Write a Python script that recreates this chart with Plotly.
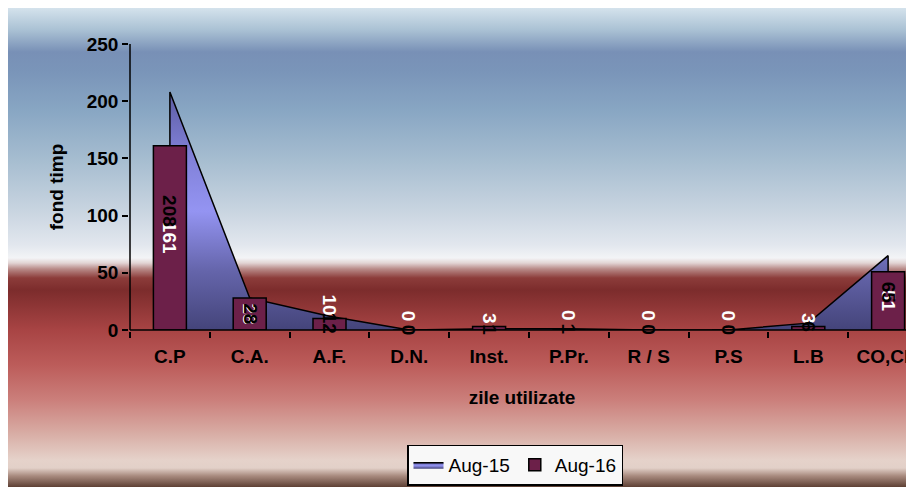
import base64
import plotly.graph_objects as go

# ---------------- data ----------------
categories = ["C.P", "C.A.", "A.F.", "D.N.", "Inst.", "P.Pr.", "R / S", "P.S", "L.B", "CO,CM"]
aug15 = [208, 28, 12, 0, 1, 1, 0, 0, 6, 65]
aug16 = [161, 28, 10, 0, 3, 0, 0, 0, 3, 51]
series_names = ["Aug-15", "Aug-16"]
y_ticks = [0, 50, 100, 150, 200, 250]
x_title = "zile utilizate"
y_title = "fond timp"

# ---------------- geometry helpers (layout only) ----------------
OFF = 8                      # page body margin
W, H = 914 - OFF, 487 - OFF  # figure size
ML, MR, MT, MB = 122, 0, 36, 157
PW, PH = W - ML - MR, H - MT - MB
CAT_PX = 79.8                # pixel width of one category slot
BAR_FRAC = 33 / CAT_PX


def px_to_paper_x(px):       # px in figure pixels
    return (px - ML) / PW


def px_to_paper_y(py):
    return (H - MB - py) / PH


FONT = "Liberation Sans, Arial, sans-serif"
LABEL_FONT_W = dict(family=FONT, size=19, color="white", weight="bold")
LABEL_FONT_B = dict(family=FONT, size=19, color="black", weight="bold")

# background gradient (figure pixel y, colour)
bg_stops = [(0, '#d4e2ec'), (22, '#aac1d4'), (44, '#7890b6'), (64, '#7a95b9'),
            (102, '#88a6c3'), (152, '#a6bdd0'), (202, '#c8d4e0'), (237, '#e2e7ee'),
            (250, '#f3f4f6'), (255, '#e2d4d4'), (261, '#b88a88'), (270, '#8c3c3a'),
            (282, '#7c2c2c'), (322, '#a84444'), (357, '#bc5c5a'), (392, '#cb7f7b'),
            (425, '#d8aca4'), (452, '#e5d2ca'), (460, '#e2d0c8'), (468, '#a88a7e'),
            (479, '#5e4034')]
stops_svg = "".join(
    f'<stop offset="{y / H:.4f}" stop-color="{c}"/>' for y, c in bg_stops)
svg = (f'<svg xmlns="http://www.w3.org/2000/svg" width="{W}" height="{H}" '
       f'preserveAspectRatio="none"><defs><linearGradient id="g" x1="0" y1="0" x2="0" y2="1">'
       f'{stops_svg}</linearGradient></defs>'
       f'<rect width="{W}" height="{H}" fill="url(#g)"/></svg>')
bg_uri = "data:image/svg+xml;base64," + base64.b64encode(svg.encode()).decode()

fig = go.Figure()

# Aug-15 area (closed polygon from the data, down to zero at both ends)
area_x = [categories[0]] + categories + [categories[-1]]
area_y = [0] + aug15 + [0]
fig.add_trace(go.Scatter(
    x=area_x, y=area_y, name=series_names[0], mode="lines",
    fill="toself",
    fillgradient=dict(type="vertical",
                      colorscale=[[0, '#44447a'], [0.25, '#6565ab'], [0.5, '#9494f2'],
                                  [0.75, '#7f7fd6'], [1, '#5c5ca2']],
                      start=0, stop=max(aug15)),
    line=dict(color="black", width=1.5),
    hoverinfo="skip",
    zorder=0,
))

# Aug-16 bars (in front of the area)
fig.add_trace(go.Bar(
    x=categories, y=aug16, name=series_names[1],
    width=BAR_FRAC, offset=-BAR_FRAC / 2,
    marker=dict(color="#6c2049", line=dict(color="black", width=1.5)),
    text=[str(v) for v in aug16],
    textposition="auto", textangle=90,
    insidetextanchor="middle",
    constraintext="none",
    insidetextfont=LABEL_FONT_W,
    outsidetextfont=LABEL_FONT_W,
    cliponaxis=False,
    zorder=1,
))

annotations = []
# Aug-16 labels of zero-height bars (plotly draws no text for empty bars)
for c, v in zip(categories, aug16):
    if v == 0:
        annotations.append(dict(
            x=c, y=v, xref="x", yref="y", yshift=14, text=str(v), showarrow=False,
            textangle=90, font=LABEL_FONT_W,
        ))
# Aug-15 data labels (black, rotated, at mid height of the area)
for c, v in zip(categories, aug15):
    annotations.append(dict(
        x=c, y=v / 2, xref="x", yref="y", text=str(v), showarrow=False,
        textangle=90, font=LABEL_FONT_B,
    ))

# axis lines (plot-area frame on the left and bottom)
axis_lines = [
    dict(type="line", xref="paper", yref="paper", x0=0, x1=0, y0=0, y1=1,
         line=dict(color="black", width=1.5), layer="above"),
    dict(type="line", xref="paper", yref="paper", x0=0, x1=1, y0=0, y1=0,
         line=dict(color="black", width=1.5), layer="above"),
]

fig.update_layout(
    width=W, height=H,
    margin=dict(l=ML, r=MR, t=MT, b=MB, autoexpand=False),
    paper_bgcolor="white",
    plot_bgcolor="rgba(0,0,0,0)",
    barmode="overlay",
    showlegend=True,
    legend=dict(orientation="h", x=px_to_paper_x(507), xanchor="center",
                y=px_to_paper_y(457), yanchor="middle",
                bgcolor="#f8f8f8", bordercolor="black", borderwidth=1.5,
                font=dict(family=FONT, size=19, color="black"),
                itemwidth=30, tracegroupgap=0),
    images=[dict(source=bg_uri, xref="paper", yref="paper",
                 x=px_to_paper_x(0), y=px_to_paper_y(0),
                 sizex=W / PW, sizey=H / PH,
                 xanchor="left", yanchor="top", sizing="stretch", layer="below")],
    annotations=annotations,
    shapes=axis_lines,
    xaxis=dict(
        type="category", range=[-0.5, -0.5 + PW / CAT_PX],
        showline=True, linecolor="black", linewidth=1.5,
        ticks="outside", tickson="boundaries", ticklen=6, tickcolor="black", tickwidth=1.5,
        tickfont=dict(family=FONT, size=19, color="black", weight="bold"),
        ticklabelstandoff=8,
        showgrid=False, zeroline=False,
        title=dict(text=x_title, standoff=25,
                   font=dict(family=FONT, size=19, color="black", weight="bold")),
    ),
    yaxis=dict(
        range=[0, 250], tickvals=y_ticks,
        showline=True, linecolor="black", linewidth=1.5,
        ticks="outside", ticklen=6, tickcolor="black", tickwidth=1.5,
        tickfont=dict(family=FONT, size=19, color="black", weight="bold"),
        showgrid=False, zeroline=False,
        title=dict(text=y_title, standoff=18,
                   font=dict(family=FONT, size=19, color="black", weight="bold")),
    ),
)

fig.write_html("out.html")
